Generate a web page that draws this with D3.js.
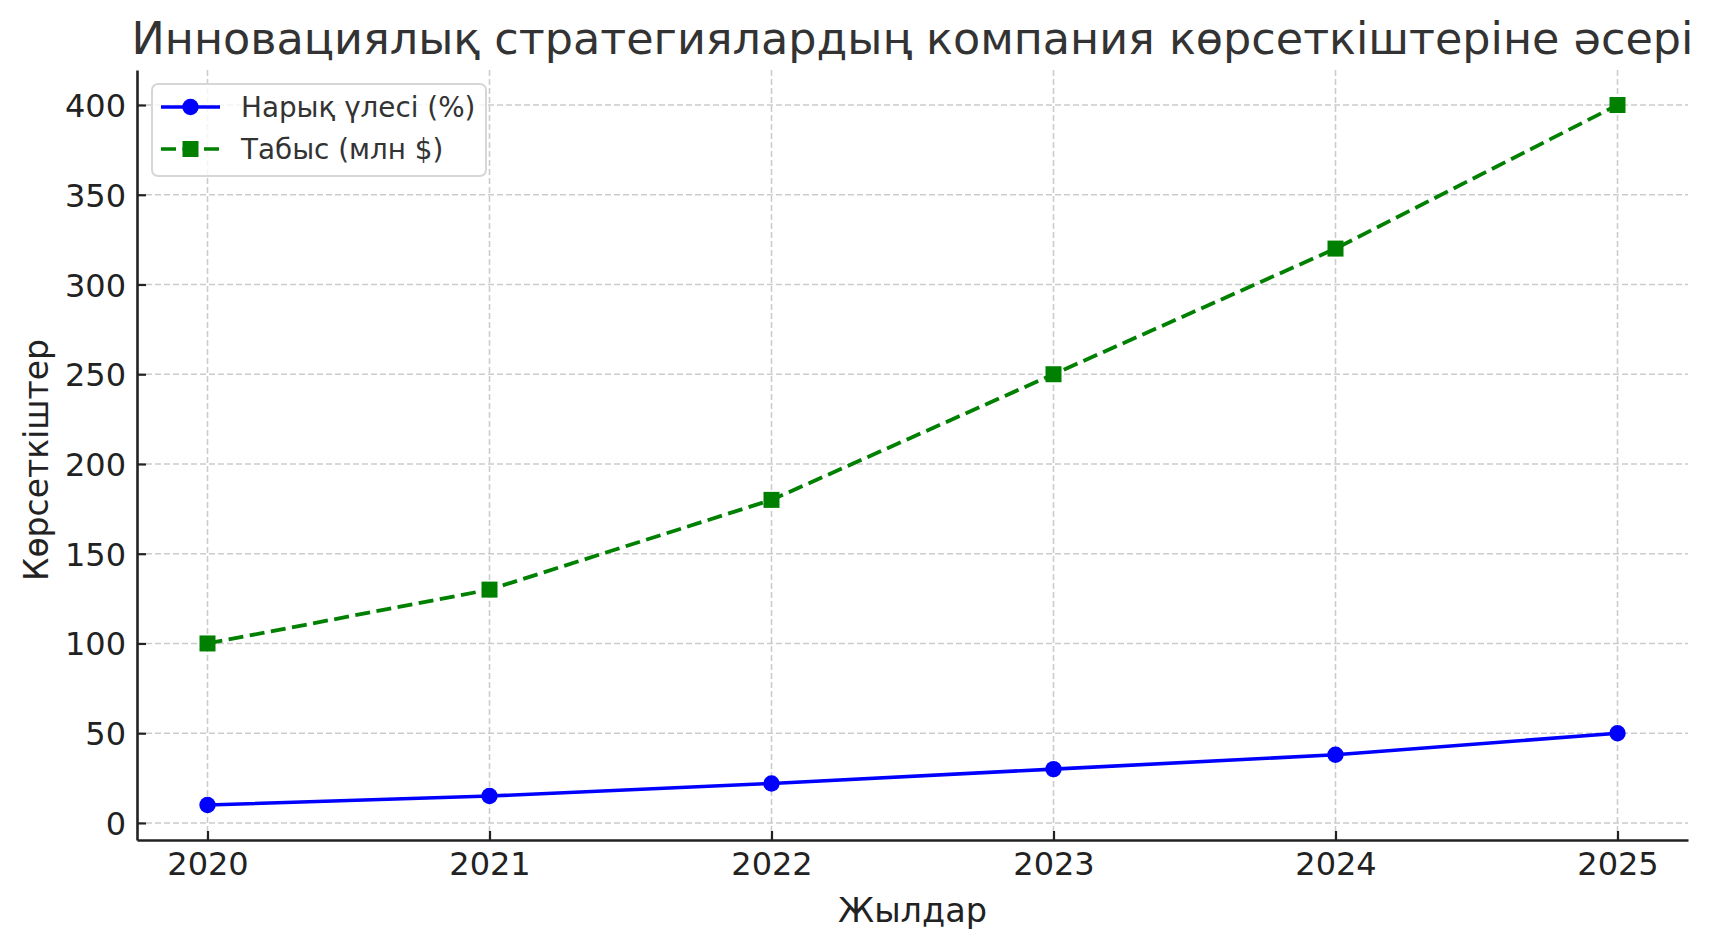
<!DOCTYPE html>
<html>
<head>
<meta charset="utf-8">
<script src="https://cdn.jsdelivr.net/npm/d3@7"></script>
<style>
  html, body { margin: 0; padding: 0; background: #fff; }
  svg { display: block; font-family: "DejaVu Sans", sans-serif; }
</style>
</head>
<body>
<svg id="chart" width="1712" height="947"></svg>
<script>
const years = [2020, 2021, 2022, 2023, 2024, 2025];
const marketShare = [10, 15, 22, 30, 38, 50];
const revenue = [100, 130, 180, 250, 320, 400];
const yTicks = [0, 50, 100, 150, 200, 250, 300, 350, 400];
const seriesNames = ["Нарық үлесі (%)", "Табыс (млн $)"];
const titleText = "Инновациялық стратегиялардың компания көрсеткіштеріне әсері";
const xLabelText = "Жылдар";
const yLabelText = "Көрсеткіштер";

const W = 1712, H = 947;
const m = { left: 137, right: 1688, top: 70, bottom: 840 };
const svg = d3.select("#chart");

const x = d3.scaleLinear().domain([2019.75, 2025.25]).range([m.left, m.right]);
const y = d3.scaleLinear().domain([-9.5, 419.5]).range([m.bottom, m.top]);

// grid
const grid = svg.append("g");
grid.selectAll("line.gx").data(years).enter().append("line")
  .attr("x1", d => x(d)).attr("x2", d => x(d))
  .attr("y1", m.top).attr("y2", m.bottom)
  .attr("stroke", "#cccccc").attr("stroke-width", 1.6).attr("stroke-dasharray", "6,3");
grid.selectAll("line.gy").data(yTicks).enter().append("line")
  .attr("x1", m.left).attr("x2", m.right)
  .attr("y1", d => y(d)).attr("y2", d => y(d))
  .attr("stroke", "#cccccc").attr("stroke-width", 1.6).attr("stroke-dasharray", "6,3");

// axes
const xAxis = d3.axisBottom(x).tickValues(years).tickFormat(d3.format("d")).tickSizeInner(-9).tickSizeOuter(0).tickPadding(20);
const yAxis = d3.axisLeft(y).tickValues(yTicks).tickSizeInner(-9).tickSizeOuter(0).tickPadding(20);

const gx = svg.append("g").attr("transform", `translate(0,${m.bottom})`).call(xAxis);
const gy = svg.append("g").attr("transform", `translate(${m.left},0)`).call(yAxis);
[gx, gy].forEach(g => {
  g.select(".domain").attr("stroke", "#222").attr("stroke-width", 2.6);
  g.selectAll(".tick line").attr("stroke", "#222").attr("stroke-width", 2.2);
  g.selectAll(".tick text").attr("fill", "#222").attr("font-size", 32).attr("font-family", "DejaVu Sans");
});
gx.selectAll(".tick text").attr("dy", null).attr("y", 35);
gy.selectAll(".tick text").attr("x", -11).attr("dy", "0.36em");

// lines
const line1 = d3.line().x((d, i) => x(years[i])).y(d => y(d));
svg.append("path").datum(marketShare).attr("d", line1)
  .attr("fill", "none").attr("stroke", "#0000ff").attr("stroke-width", 3.6);
svg.append("path").datum(revenue).attr("d", line1)
  .attr("fill", "none").attr("stroke", "#008000").attr("stroke-width", 3.8).attr("stroke-dasharray", "15,6.5");

svg.selectAll("circle.m").data(marketShare).enter().append("circle")
  .attr("cx", (d, i) => x(years[i])).attr("cy", d => y(d)).attr("r", 8.2).attr("fill", "#0000ff");
const sq = 16;
svg.selectAll("rect.m").data(revenue).enter().append("rect")
  .attr("x", (d, i) => x(years[i]) - sq / 2).attr("y", d => y(d) - sq / 2)
  .attr("width", sq).attr("height", sq).attr("fill", "#008000");

// legend
const lg = svg.append("g");
lg.append("rect").attr("x", 152).attr("y", 84).attr("width", 334).attr("height", 92)
  .attr("rx", 6).attr("fill", "rgba(255,255,255,0.8)").attr("stroke", "#d6d6d6").attr("stroke-width", 2);
const rows = [
  { name: seriesNames[0], color: "#0000ff", dash: null, shape: "circle", cy: 107 },
  { name: seriesNames[1], color: "#008000", dash: "15,6.5", shape: "square", cy: 149 }
];
rows.forEach(r => {
  lg.append("line").attr("x1", 161).attr("x2", 220).attr("y1", r.cy).attr("y2", r.cy)
    .attr("stroke", r.color).attr("stroke-width", 3.6).attr("stroke-dasharray", r.dash);
  if (r.shape === "circle") {
    lg.append("circle").attr("cx", 190.5).attr("cy", r.cy).attr("r", 8.2).attr("fill", r.color);
  } else {
    lg.append("rect").attr("x", 190.5 - sq / 2).attr("y", r.cy - sq / 2).attr("width", sq).attr("height", sq).attr("fill", r.color);
  }
  lg.append("text").attr("x", 241).attr("y", r.cy).attr("dy", "0.36em")
    .attr("font-size", 27.8).attr("fill", "#333").text(r.name);
});

// title & labels
svg.append("text").attr("x", (m.left + m.right) / 2).attr("y", 54).attr("text-anchor", "middle")
  .attr("font-size", 44.5).attr("fill", "#333").text(titleText);
svg.append("text").attr("x", (m.left + m.right) / 2).attr("y", 922).attr("text-anchor", "middle")
  .attr("font-size", 33.5).attr("fill", "#222").text(xLabelText);
svg.append("text").attr("transform", `translate(48,${(m.top + m.bottom) / 2 + 5}) rotate(-90)`).attr("text-anchor", "middle")
  .attr("font-size", 33).attr("fill", "#222").text(yLabelText);
</script>
</body>
</html>
